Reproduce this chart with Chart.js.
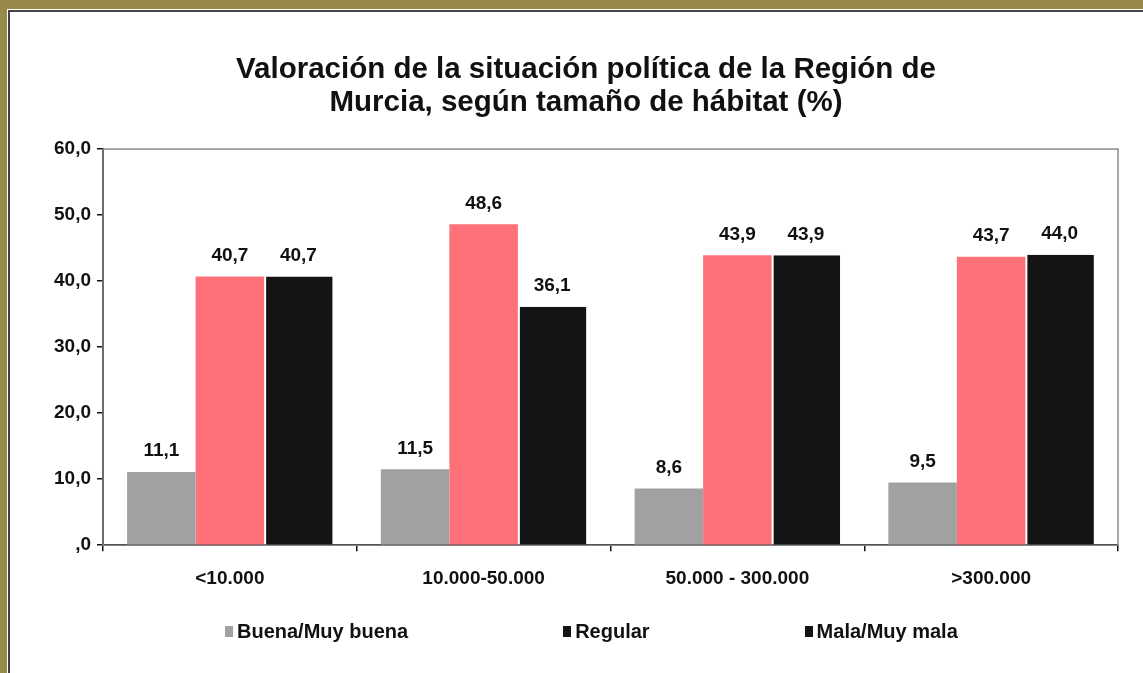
<!DOCTYPE html>
<html>
<head>
<meta charset="utf-8">
<script src="https://cdn.jsdelivr.net/npm/chart.js@4/dist/chart.umd.min.js"></script>
<style>
  html, body { margin: 0; padding: 0; background: #fff; }
  body { width: 1143px; height: 673px; position: relative; overflow: hidden; font-family: "Liberation Sans", Arial, sans-serif; }
  .frame { position: absolute; left: 0; top: 0; width: 1143px; height: 673px; box-sizing: border-box;
           border-top: 9px solid #978a48; border-left: 7px solid #978a48; }
  .frame .inner { position: absolute; left: 1px; top: 1px; right: -10px; bottom: -10px;
                  border-top: 2px solid #444; border-left: 2px solid #444; }
  #wrap { position: absolute; left: 0; top: 0; width: 1143px; height: 673px; }
  #legend { position: absolute; left: 225px; top: 620px; display: flex; gap: 155px;
            font: bold 20px "Liberation Sans", Arial, sans-serif; color: #111; }
  #legend .item { display: flex; align-items: center; }
  #legend .box { width: 8px; height: 11px; margin-right: 4px; }
</style>
</head>
<body>
<div class="frame"><div class="inner"></div></div>
<div id="wrap"><canvas id="chart" width="1143" height="673"></canvas></div>
<div id="legend"></div>
<script>
const categories = ['<10.000', '10.000-50.000', '50.000 - 300.000', '>300.000'];
const seriesNames = ['Buena/Muy buena', 'Regular', 'Mala/Muy mala'];
const buena = [11.1, 11.5, 8.6, 9.5];
const regular = [40.7, 48.6, 43.9, 43.7];
const mala = [40.7, 36.1, 43.9, 44.0];
const yTicks = [0, 10, 20, 30, 40, 50, 60];
const barColors = ['#a1a1a1', '#ff7179', '#141414'];
const legendColors = ['#a1a1a1', '#141414', '#141414'];

function fmt(v){
    if (v === 0) return ',0';
    return v.toFixed(1).replace('.', ',');
}

const valueLabels = {
    id: 'valueLabels',
    afterDatasetsDraw(chart){
        const c = chart.ctx;
        c.save();
        c.font = 'bold 19px "Liberation Sans", Arial, sans-serif';
        c.fillStyle = '#111';
        c.textAlign = 'center';
        c.textBaseline = 'middle';
        chart.data.datasets.forEach(function(ds, i){
            chart.getDatasetMeta(i).data.forEach(function(bar, j){
                c.fillText(fmt(ds.data[j]), bar.x, bar.y - 21);
            });
        });
        c.restore();
    }
};

const plotBox = {
    id: 'plotBox',
    beforeDatasetsDraw(chart){
        const a = chart.chartArea;
        const c = chart.ctx;
        c.save();
        c.strokeStyle = '#8a8a8a';
        c.lineWidth = 1.5;
        c.strokeRect(a.left, a.top, a.right - a.left, a.bottom - a.top);
        c.restore();
    }
};

document.addEventListener('DOMContentLoaded', function(){

    const ctx = document.getElementById('chart');

    new Chart(ctx, {
        type: 'bar',
        data: {
            labels: categories,
            datasets: [
                { label: seriesNames[0], data: buena, backgroundColor: barColors[0] },
                { label: seriesNames[1], data: regular, backgroundColor: barColors[1] },
                { label: seriesNames[2], data: mala, backgroundColor: barColors[2],
                  borderColor: '#ffffff', borderWidth: { left: 2 }, borderSkipped: false }
            ]
        },
        options: {
            responsive: false,
            animation: false,
            events: [],
            categoryPercentage: 0.81,
            barPercentage: 1.0,
            layout: { padding: { left: 54, right: 25, top: 0, bottom: 67 } },
            plugins: {
                legend: { display: false },
                tooltip: { enabled: false },
                title: {
                    display: true,
                    text: ['Valoración de la situación política de la Región de', 'Murcia, según tamaño de hábitat (%)'],
                    color: '#111',
                    font: { family: '"Liberation Sans", Arial, sans-serif', size: 29.5, weight: 'bold', lineHeight: 1.12 },
                    padding: { top: 53.5, bottom: 29.5 }
                }
            },
            scales: {
                x: {
                    grid: { display: true, drawOnChartArea: false, drawTicks: true, tickLength: 6, color: '#111', lineWidth: 1.5 },
                    border: { display: true, color: '#111', width: 2 },
                    ticks: { color: '#111', padding: 16, maxRotation: 0,
                             font: { family: '"Liberation Sans", Arial, sans-serif', size: 19, weight: 'bold' } }
                },
                y: {
                    min: 0, max: 60,
                    afterFit: function(scale){ scale.width = 49; },
                    afterBuildTicks: function(scale){ scale.ticks = yTicks.map(function(v){ return { value: v }; }); },
                    grid: { display: true, drawOnChartArea: false, drawTicks: true, tickLength: 6, color: '#111', lineWidth: 1.5 },
                    border: { display: true, color: '#111', width: 2 },
                    ticks: { color: '#111', padding: 6, callback: function(v){ return fmt(v); },
                             font: { family: '"Liberation Sans", Arial, sans-serif', size: 19, weight: 'bold' } }
                }
            }
        },
        plugins: [plotBox, valueLabels]
    });

    const legend = document.getElementById('legend');
    seriesNames.forEach(function(name, i){
        const item = document.createElement('div');
        item.className = 'item';
        const box = document.createElement('span');
        box.className = 'box';
        box.style.background = legendColors[i];
        const txt = document.createElement('span');
        txt.textContent = name;
        item.appendChild(box);
        item.appendChild(txt);
        legend.appendChild(item);
    });

});
</script>
</body>
</html>
